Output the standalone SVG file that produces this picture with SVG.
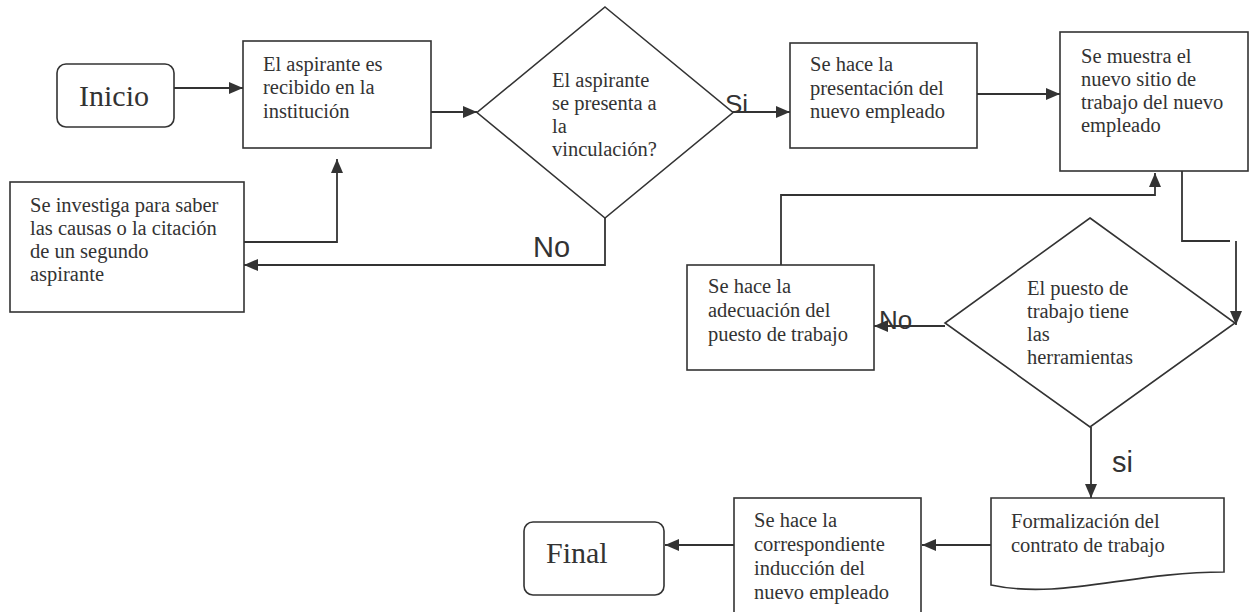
<svg xmlns="http://www.w3.org/2000/svg" width="1253" height="612" viewBox="0 0 1253 612">
  <style>
    .shape { fill: #ffffff; stroke: #333333; stroke-width: 1.6; }
    .txt { font-family: "Liberation Serif", "Times New Roman", serif; font-size: 20.5px; fill: #333333; }
    .term { font-family: "Liberation Serif", "Times New Roman", serif; font-size: 30px; fill: #333333; }
    .lbl { font-family: "Liberation Sans", Arial, sans-serif; fill: #333333; }
    .conn { fill: none; stroke: #333333; stroke-width: 1.8; }
  </style>
  <defs>
    <marker id="arrow" viewBox="0 0 14 12" refX="14" refY="6" markerWidth="14" markerHeight="12" markerUnits="userSpaceOnUse" orient="auto">
      <path d="M0,0 L14,6 L0,12 Z" fill="#333333"/>
    </marker>
  </defs>
  <rect width="1253" height="612" fill="#ffffff"/>

  <!-- connectors -->
  <g id="connectors">
    <path class="conn" d="M174,88 H243" marker-end="url(#arrow)"/>
    <path class="conn" d="M431,112 H477" marker-end="url(#arrow)"/>
    <path class="conn" d="M733,112 H790" marker-end="url(#arrow)"/>
    <path class="conn" d="M977,94 H1060" marker-end="url(#arrow)"/>
    <path class="conn" d="M605,218 V265 H244" marker-end="url(#arrow)"/>
    <path class="conn" d="M244,242 H337 V159" marker-end="url(#arrow)"/>
    <path class="conn" d="M1182,171 V241 H1230"/>
    <path class="conn" d="M1236,241 V325" marker-end="url(#arrow)"/>
    <path class="conn" d="M945,326 H874" marker-end="url(#arrow)"/>
    <path class="conn" d="M781,265 V195 H1155 V173" marker-end="url(#arrow)"/>
    <path class="conn" d="M1091,427 V498" marker-end="url(#arrow)"/>
    <path class="conn" d="M991,545 H922" marker-end="url(#arrow)"/>
    <path class="conn" d="M734,545 H665" marker-end="url(#arrow)"/>
  </g>

  <!-- connector labels -->
  <g id="labels">
    <text class="lbl" x="725" y="113" font-size="26">Si</text>
    <text class="lbl" x="533" y="257" font-size="29">No</text>
    <text class="lbl" x="879" y="329" font-size="26">No</text>
    <text class="lbl" x="1112" y="472" font-size="29">si</text>
  </g>

  <g id="inicio">
    <rect class="shape" x="57" y="64" width="117" height="63" rx="9"/>
    <text class="term" x="79" y="106">Inicio</text>
  </g>

  <g id="recibido">
    <rect class="shape" x="243" y="41" width="188" height="107"/>
    <text class="txt" x="263" y="70.5">El aspirante es</text>
    <text class="txt" x="263" y="94">recibido en la</text>
    <text class="txt" x="263" y="117.5">institución</text>
  </g>

  <g id="investiga">
    <rect class="shape" x="10" y="182" width="234" height="130"/>
    <text class="txt" x="30" y="212">Se investiga para saber</text>
    <text class="txt" x="30" y="235">las causas o la citación</text>
    <text class="txt" x="30" y="258">de un segundo</text>
    <text class="txt" x="30" y="281">aspirante</text>
  </g>

  <g id="se-presenta">
    <polygon class="shape" points="605,7 733,112.5 605,218 477,112.5"/>
    <text class="txt" x="552" y="87">El aspirante</text>
    <text class="txt" x="552" y="110">se presenta a</text>
    <text class="txt" x="552" y="133">la</text>
    <text class="txt" x="552" y="156">vinculación?</text>
  </g>

  <g id="presentacion">
    <rect class="shape" x="790" y="43" width="187" height="105"/>
    <text class="txt" x="810" y="71">Se hace la</text>
    <text class="txt" x="810" y="94.5">presentación del</text>
    <text class="txt" x="810" y="118">nuevo empleado</text>
  </g>

  <g id="sitio">
    <rect class="shape" x="1060" y="32" width="188" height="139"/>
    <text class="txt" x="1081" y="63">Se muestra el</text>
    <text class="txt" x="1081" y="86">nuevo sitio de</text>
    <text class="txt" x="1081" y="109">trabajo del nuevo</text>
    <text class="txt" x="1081" y="132">empleado</text>
  </g>

  <g id="herramientas">
    <polygon class="shape" points="1090,218 1235,323 1090,427 945,323"/>
    <text class="txt" x="1027" y="295">El puesto de</text>
    <text class="txt" x="1027" y="318">trabajo tiene</text>
    <text class="txt" x="1027" y="341">las</text>
    <text class="txt" x="1027" y="364">herramientas</text>
  </g>

  <g id="adecuacion">
    <rect class="shape" x="687" y="265" width="187" height="105"/>
    <text class="txt" x="708" y="293">Se hace la</text>
    <text class="txt" x="708" y="317">adecuación del</text>
    <text class="txt" x="708" y="341">puesto de trabajo</text>
  </g>

  <g id="formalizacion">
    <path class="shape" d="M991,498 H1224 V572 C1130,572 1060,600 991,585 Z"/>
    <text class="txt" x="1011" y="528">Formalización del</text>
    <text class="txt" x="1011" y="552">contrato de trabajo</text>
  </g>

  <g id="induccion">
    <rect class="shape" x="734" y="498" width="187" height="124"/>
    <text class="txt" x="754" y="527">Se hace la</text>
    <text class="txt" x="754" y="551">correspondiente</text>
    <text class="txt" x="754" y="575">inducción del</text>
    <text class="txt" x="754" y="599">nuevo empleado</text>
  </g>

  <g id="final">
    <rect class="shape" x="524" y="522" width="140" height="73" rx="9"/>
    <text class="term" x="546" y="563">Final</text>
  </g>
</svg>
